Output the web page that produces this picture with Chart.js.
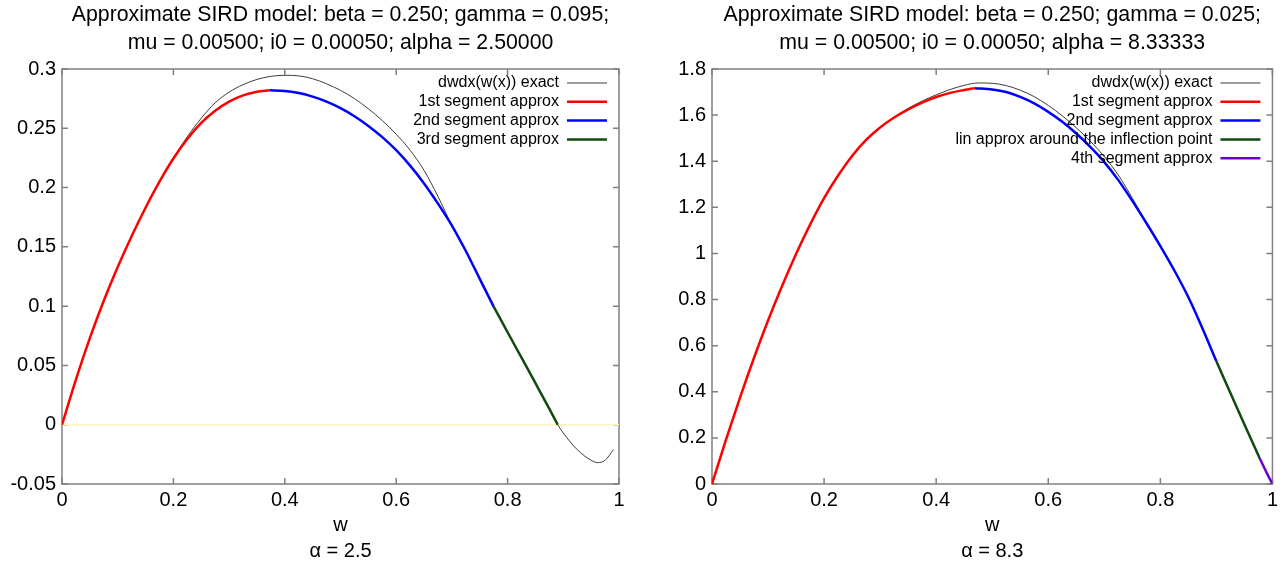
<!DOCTYPE html>
<html>
<head>
<meta charset="utf-8">
<script src="https://cdn.jsdelivr.net/npm/chart.js@4"></script>
<style>
    html, body { margin: 0; padding: 0; background: #fff; }
    #wrap { display: flex; width: 1282px; height: 573px; }
    canvas { display: block; }
</style>
</head>
<body>
<div id="wrap">
    <canvas id="leftChart" width="641" height="573"></canvas>
    <canvas id="rightChart" width="641" height="573"></canvas>
</div>
<script>
// ---- left plot: alpha = 2.5 ----
const leftTitle = ['Approximate SIRD model: beta = 0.250; gamma = 0.095;', 'mu = 0.00500; i0 = 0.00050; alpha = 2.50000'];
const leftCaption = 'α = 2.5';
const leftYTicks = [-0.05, 0, 0.05, 0.1, 0.15, 0.2, 0.25, 0.3];
const xTicks = [0, 0.2, 0.4, 0.6, 0.8, 1];

const leftExactW = [0, 0.025, 0.05, 0.075, 0.1, 0.125, 0.15, 0.175, 0.2, 0.225, 0.25, 0.275, 0.3, 0.325, 0.35, 0.375, 0.4, 0.425, 0.45, 0.475, 0.5, 0.525, 0.55, 0.575, 0.6, 0.625, 0.65, 0.675, 0.7, 0.725, 0.75, 0.775, 0.8, 0.825, 0.85, 0.875, 0.89, 0.9, 0.925, 0.95, 0.962, 0.975, 0.99];
const leftExactV = [0, 0.038, 0.073, 0.1045, 0.133, 0.159, 0.183, 0.205, 0.225, 0.243, 0.2585, 0.2715, 0.2805, 0.2868, 0.2912, 0.2938, 0.2947, 0.2942, 0.2918, 0.2875, 0.282, 0.275, 0.2665, 0.2565, 0.245, 0.2315, 0.2145, 0.1925, 0.168, 0.1465, 0.123, 0.0996, 0.078, 0.0565, 0.035, 0.0133, 0, -0.007, -0.021, -0.03, -0.032, -0.03, -0.021];

const leftSeg1W = [0, 0.025, 0.05, 0.075, 0.1, 0.125, 0.15, 0.175, 0.2, 0.225, 0.25, 0.275, 0.3, 0.325, 0.35, 0.372];
const leftSeg1V = [0, 0.038, 0.073, 0.1045, 0.133, 0.159, 0.183, 0.205, 0.2245, 0.241, 0.2545, 0.2648, 0.2725, 0.2778, 0.2808, 0.282];

const leftSeg2W = [0.372, 0.4, 0.425, 0.45, 0.475, 0.5, 0.525, 0.55, 0.575, 0.6, 0.625, 0.65, 0.675, 0.7, 0.725, 0.75, 0.775];
const leftSeg2V = [0.282, 0.2815, 0.2797, 0.2767, 0.2725, 0.267, 0.2602, 0.252, 0.2425, 0.2315, 0.2185, 0.2035, 0.1865, 0.168, 0.1465, 0.123, 0.0996];

const leftSeg3W = [0.775, 0.8, 0.825, 0.85, 0.875, 0.89];
const leftSeg3V = [0.0996, 0.078, 0.0565, 0.035, 0.0133, 0];

// ---- right plot: alpha = 8.3 ----
const rightTitle = ['Approximate SIRD model: beta = 0.250; gamma = 0.025;', 'mu = 0.00500; i0 = 0.00050; alpha = 8.33333'];
const rightCaption = 'α = 8.3';
const rightYTicks = [0, 0.2, 0.4, 0.6, 0.8, 1, 1.2, 1.4, 1.6, 1.8];

const rightExactW = [0, 0.025, 0.05, 0.075, 0.1, 0.125, 0.15, 0.175, 0.2, 0.225, 0.25, 0.275, 0.3, 0.325, 0.35, 0.375, 0.4, 0.425, 0.45, 0.475, 0.5, 0.525, 0.55, 0.575, 0.6, 0.625, 0.65, 0.675, 0.7, 0.725, 0.75, 0.775, 0.8, 0.825, 0.85, 0.875, 0.9, 0.925, 0.95, 0.977, 0.99, 1];
const rightExactV = [0, 0.1925, 0.375, 0.5475, 0.709, 0.859, 0.998, 1.125, 1.24, 1.338, 1.423, 1.4925, 1.5465, 1.591, 1.629, 1.661, 1.688, 1.711, 1.729, 1.7395, 1.738, 1.728, 1.708, 1.68, 1.642, 1.597, 1.545, 1.487, 1.42, 1.34, 1.24, 1.134, 1.032, 0.926, 0.81, 0.676, 0.532, 0.395, 0.258, 0.113, 0.047, 0];

const rightSeg1W = [0, 0.025, 0.05, 0.075, 0.1, 0.125, 0.15, 0.175, 0.2, 0.225, 0.25, 0.275, 0.3, 0.325, 0.35, 0.375, 0.4, 0.425, 0.45, 0.469];
const rightSeg1V = [0, 0.1925, 0.375, 0.5475, 0.709, 0.859, 0.998, 1.125, 1.24, 1.338, 1.423, 1.4925, 1.5465, 1.5895, 1.625, 1.6545, 1.6785, 1.6965, 1.709, 1.717];

const rightSeg2W = [0.469, 0.5, 0.525, 0.55, 0.575, 0.6, 0.625, 0.65, 0.675, 0.7, 0.725, 0.75, 0.775, 0.8, 0.825, 0.85, 0.875, 0.9];
const rightSeg2V = [1.717, 1.711, 1.7, 1.679, 1.651, 1.614, 1.571, 1.52, 1.462, 1.396, 1.318, 1.228, 1.132, 1.032, 0.926, 0.81, 0.676, 0.532];

const rightLinW = [0.9, 0.925, 0.95, 0.977];
const rightLinV = [0.532, 0.395, 0.258, 0.113];

const rightSeg4W = [0.977, 0.99, 1];
const rightSeg4V = [0.113, 0.047, 0];

const FONT = '"Liberation Sans", Arial, sans-serif';
Chart.defaults.font.family = FONT;
Chart.defaults.color = '#000';

const pts = (ws, vs) => ws.map((w, i) => ({ x: w, y: vs[i] }));
const fmt = v => String(+Number(v).toFixed(4));

// gnuplot style box with inward ticks on all four sides
const framePlugin = {
    id: 'frame',
    beforeDatasetsDraw(chart) {
        const { ctx, chartArea: a, scales: { x, y } } = chart;
        ctx.save();
        ctx.strokeStyle = '#808080';
        ctx.lineWidth = 1.5;
        ctx.strokeRect(a.left, a.top, a.width, a.height);
        ctx.beginPath();
        x.ticks.forEach(t => {
            const px = x.getPixelForValue(t.value);
            ctx.moveTo(px, a.bottom); ctx.lineTo(px, a.bottom - 6);
            ctx.moveTo(px, a.top); ctx.lineTo(px, a.top + 6);
        });
        y.ticks.forEach(t => {
            const py = y.getPixelForValue(t.value);
            ctx.moveTo(a.left, py); ctx.lineTo(a.left + 6, py);
            ctx.moveTo(a.right, py); ctx.lineTo(a.right - 6, py);
        });
        ctx.stroke();
        ctx.restore();
    }
};

// key in the top right corner: text right aligned, sample line after it
const keyPlugin = {
    id: 'key',
    afterDatasetsDraw(chart) {
        const { ctx, chartArea: a } = chart;
        ctx.save();
        ctx.font = '16px ' + FONT;
        ctx.textAlign = 'right';
        ctx.textBaseline = 'middle';
        ctx.fillStyle = '#000';
        let row = 0;
        chart.data.datasets.forEach(ds => {
            if (!ds.label) return;
            const yy = a.top + 14 + row * 18.8;
            ctx.fillText(ds.label, a.right - 60, yy);
            ctx.strokeStyle = ds.borderColor;
            ctx.lineWidth = ds.borderWidth;
            ctx.beginPath();
            ctx.moveTo(a.right - 52, yy);
            ctx.lineTo(a.right - 12, yy);
            ctx.stroke();
            row++;
        });
        ctx.restore();
    }
};

function line(label, data, color, width, order) {
    return {
        label: label,
        data: data,
        borderColor: color,
        borderWidth: width,
        pointRadius: 0,
        fill: false,
        cubicInterpolationMode: 'monotone',
        order: order
    };
}

function makeChart(id, opts) {
    const ctx = document.getElementById(id).getContext('2d');
    return new Chart(ctx, {
        type: 'line',
        data: { datasets: opts.datasets },
        options: {
            responsive: false,
            animation: false,
            devicePixelRatio: 1,
            events: [],
            layout: { padding: { left: 0, right: opts.padRight, top: 0, bottom: 10 } },
            plugins: {
                legend: { display: false },
                tooltip: { enabled: false },
                title: {
                    display: true,
                    text: opts.title,
                    fullSize: false,
                    color: '#000',
                    font: { size: 21.3, weight: 'normal', lineHeight: 28 / 21.3 },
                    padding: { top: 1, bottom: 12 }
                },
                subtitle: {
                    display: true,
                    text: opts.caption,
                    position: 'bottom',
                    fullSize: false,
                    color: '#000',
                    font: { size: 20 },
                    padding: 0
                }
            },
            scales: {
                x: {
                    type: 'linear',
                    min: 0,
                    max: 1,
                    afterBuildTicks: s => { s.ticks = xTicks.map(v => ({ value: v })); },
                    afterFit: s => { s.height = 55; },
                    grid: { display: false, drawTicks: false },
                    border: { display: false },
                    ticks: { font: { size: 20 }, color: '#000', padding: 4, maxRotation: 0, callback: fmt },
                    title: { display: true, text: 'w', color: '#000', font: { size: 20 }, padding: { top: 0, bottom: 2 } }
                },
                y: {
                    type: 'linear',
                    min: opts.yTicks[0],
                    max: opts.yTicks[opts.yTicks.length - 1],
                    afterBuildTicks: s => { s.ticks = opts.yTicks.map(v => ({ value: v })); },
                    afterFit: s => { s.width = opts.yWidth; },
                    grid: { display: false, drawTicks: false },
                    border: { display: false },
                    ticks: { font: { size: 20 }, color: '#000', padding: 6, callback: fmt }
                }
            }
        },
        plugins: [framePlugin, keyPlugin]
    });
}

document.addEventListener('DOMContentLoaded', () => {
    makeChart('leftChart', {
        title: leftTitle,
        caption: leftCaption,
        yTicks: leftYTicks,
        yWidth: 62,
        padRight: 22,
        datasets: [
            line('dwdx(w(x)) exact', pts(leftExactW, leftExactV), '#3c3c3c', 1, 1),
            line('1st segment approx', pts(leftSeg1W, leftSeg1V), '#ff0000', 2.5, 0),
            line('2nd segment approx', pts(leftSeg2W, leftSeg2V), '#0000ff', 2.5, 0),
            line('3rd segment approx', pts(leftSeg3W, leftSeg3V), '#0f4a0f', 2.5, 0),
            line('', pts([0, 1], [0, 0]), '#fff6bf', 1.5, 2)
        ]
    });

    makeChart('rightChart', {
        title: rightTitle,
        caption: rightCaption,
        yTicks: rightYTicks,
        yWidth: 71,
        padRight: 9,
        datasets: [
            line('dwdx(w(x)) exact', pts(rightExactW, rightExactV), '#3c3c3c', 1, 1),
            line('1st segment approx', pts(rightSeg1W, rightSeg1V), '#ff0000', 2.5, 0),
            line('2nd segment approx', pts(rightSeg2W, rightSeg2V), '#0000ff', 2.5, 0),
            line('lin approx around the inflection point', pts(rightLinW, rightLinV), '#0f4a0f', 2.5, 0),
            line('4th segment approx', pts(rightSeg4W, rightSeg4V), '#7000d0', 2.5, 0)
        ]
    });
});
</script>
</body>
</html>
